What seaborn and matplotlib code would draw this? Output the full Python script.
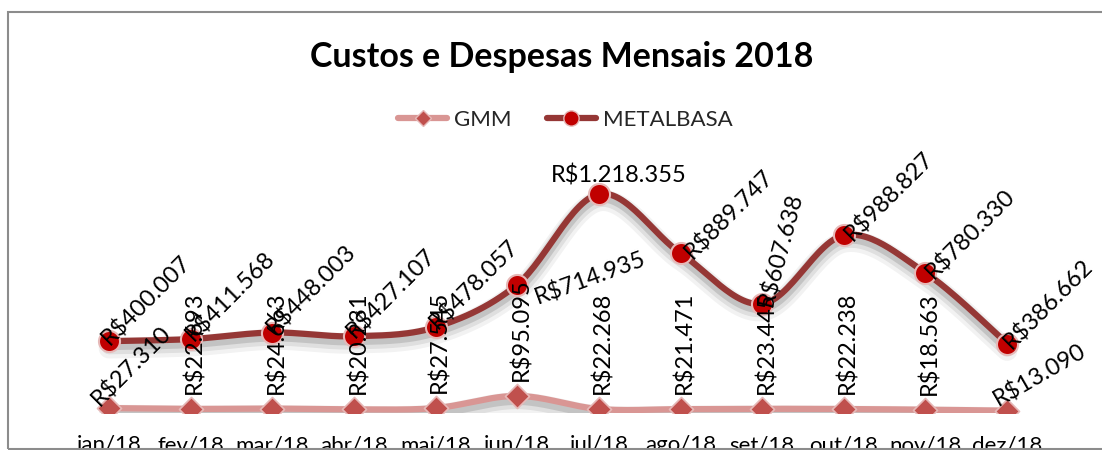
import numpy as np
import pandas as pd
import matplotlib.pyplot as plt
import matplotlib.patheffects as pe
from matplotlib.lines import Line2D
from matplotlib.patches import Rectangle
import seaborn as sns

# data
months = ['jan/18', 'fev/18', 'mar/18', 'abr/18', 'mai/18', 'jun/18',
          'jul/18', 'ago/18', 'set/18', 'out/18', 'nov/18', 'dez/18']
gmm = [27310, 22693, 24663, 20231, 27545, 95095,
       22268, 21471, 23445, 22238, 18563, 13090]
metalbasa = [400007, 411568, 448003, 427107, 478057, 714935,
             1218355, 889747, 607638, 988827, 780330, 386662]


def fmt(v):
    return 'R$' + f'{v:,}'.replace(',', '.')


def smooth(xs, ys, n=30):
    # bezier smoothing like the spreadsheet "smoothed line" option
    p = np.column_stack([xs, ys]).astype(float)
    p = np.vstack([p[0], p, p[-1]])
    out = []
    t = np.linspace(0, 1, n)[:, None]
    for i in range(1, len(p) - 2):
        p0, p1, p2, p3 = p[i - 1], p[i], p[i + 1], p[i + 2]
        c1 = p1 + (p2 - p0) / 6
        c2 = p2 - (p3 - p1) / 6
        seg = ((1 - t) ** 3) * p1 + 3 * ((1 - t) ** 2) * t * c1 + 3 * (1 - t) * t ** 2 * c2 + t ** 3 * p2
        out.append(seg if i == 1 else seg[1:])
    seg = np.vstack(out)
    return seg[:, 0], seg[:, 1]


sns.set_theme(style='white')
plt.rcParams['font.family'] = ['Lato', 'DejaVu Sans']

df = pd.DataFrame({'mes': months, 'GMM': gmm, 'METALBASA': metalbasa})
x = np.arange(len(months))

fig = plt.figure(figsize=(11.02, 4.5), dpi=100)
ax = fig.add_axes([0.0619, 0.0822, 0.889, 0.559])

# chart frame
fig.patches.append(Rectangle((0.0073, 0.002), 1.1, 0.971, transform=fig.transFigure,
                             fill=False, edgecolor='#8c8c8c', linewidth=1.5, zorder=0))

shadow = [pe.SimpleLineShadow(offset=(0, -5), shadow_color='#000000', alpha=0.05, linewidth=15),
          pe.SimpleLineShadow(offset=(0, -4), shadow_color='#000000', alpha=0.08, linewidth=11),
          pe.SimpleLineShadow(offset=(0, -3), shadow_color='#000000', alpha=0.12, linewidth=7),
          pe.Normal()]

sx, sy = smooth(x, gmm)
ax.plot(sx, sy, color='#D99694', linewidth=4.5, path_effects=shadow, zorder=2,
        solid_capstyle='round')
sx, sy = smooth(x, metalbasa)
ax.plot(sx, sy, color='#953735', linewidth=4.5, path_effects=shadow, zorder=2,
        solid_capstyle='round')

sns.scatterplot(x=x, y=df['GMM'], marker='D', s=150, color='#C0504D',
                edgecolor='#E6B9B8', linewidth=1.2, ax=ax, zorder=3, legend=False)
sns.scatterplot(x=x, y=df['METALBASA'], marker='o', s=230, color='#C00000',
                edgecolor='#E6B9B8', linewidth=1.5, ax=ax, zorder=3, legend=False)

ax.set_xlim(-0.5, len(months) - 0.5)
ax.set_ylim(0, 1400000)
ax.set_xticks(x)
ax.set_xticklabels(months, fontsize=16, color='#000000')
ax.tick_params(axis='x', length=0, pad=16)
ax.set_yticks([])
ax.set_xlabel('')
ax.set_ylabel('')
for s in ax.spines.values():
    s.set_visible(False)
ax.patch.set_alpha(0)

lab = dict(fontsize=17, color='#000000', textcoords='offset pixels',
           rotation_mode='anchor', zorder=5)

# METALBASA labels (rotation, dx, dy, ha, va)
m_pos = [(45, -4, 0, 'left', 'center'), (45, -2, 2, 'left', 'center'),
         (45, -2, 2, 'left', 'center'), (45, -4, 2, 'left', 'center'),
         (45, -2, 2, 'left', 'center'), (20, 18, -14, 'left', 'center'),
         (0, 20, 19, 'center', 'center'), (45, 8, -2, 'left', 'center'),
         (75, 4, -2, 'left', 'center'), (45, 4, -2, 'left', 'center'),
         (45, 4, -2, 'left', 'center'), (45, 0, -2, 'left', 'center')]
for i, v in enumerate(metalbasa):
    r, dx, dy, ha, va = m_pos[i]
    ax.annotate(fmt(v), (x[i], v), xytext=(dx, dy), rotation=r, ha=ha, va=va, **lab)

# GMM labels
for i, v in enumerate(gmm):
    if i == 0:
        ax.annotate(fmt(v), (x[i], v), xytext=(-14, 6), rotation=45, ha='left', va='center', **lab)
    elif i == len(gmm) - 1:
        ax.annotate(fmt(v), (x[i], v), xytext=(-12, 10), rotation=30, ha='left', va='center', **lab)
    else:
        ax.annotate(fmt(v), (x[i], v), xytext=(4, 15), rotation=90, ha='left', va='center', **lab)

fig.text(0.51, 1 - 57 / 450, 'Custos e Despesas Mensais 2018', ha='center', va='center',
         fontsize=24.5, fontweight='bold', color='#000000')

handles = [Line2D([0], [0], color='#D99694', linewidth=4.5, marker='D', markersize=8,
                  markerfacecolor='#C0504D', markeredgecolor='#E6B9B8'),
           Line2D([0], [0], color='#953735', linewidth=4.5, marker='o', markersize=11,
                  markerfacecolor='#C00000', markeredgecolor='#E6B9B8')]
fig.legend(handles, ['GMM', 'METALBASA'], loc='center', ncol=2, frameon=False,
           bbox_to_anchor=(0.513, 1 - 120 / 450), fontsize=16, handlelength=2.2,
           handletextpad=0.3, columnspacing=1.6)

fig.savefig('out.png', dpi=100)
